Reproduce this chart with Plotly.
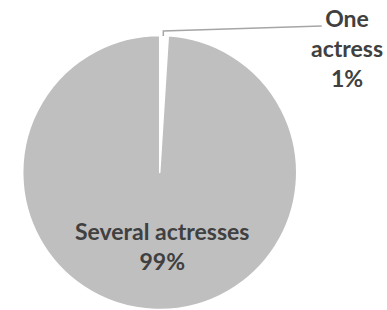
import plotly.graph_objects as go

labels = ["One actress", "Several actresses"]
values = [1, 99]
percent_text = ["1%", "99%"]
colors = ["#ffffff", "#bfbfbf"]
label_font = "Lato, 'PT Sans', 'Open Sans', sans-serif"
text_color = "#404040"

fig = go.Figure(go.Pie(
    labels=labels,
    values=values,
    sort=False,
    direction="clockwise",
    rotation=0,
    marker=dict(colors=colors, line=dict(color="#ffffff", width=1.5)),
    textinfo="none",
    domain=dict(x=[0.0587, 0.7667], y=[0.0016, 0.8855]),
    showlegend=False,
    hoverinfo="label+percent",
))

# inside label of the large slice
fig.add_annotation(
    x=161.5 / 387, y=(310 - 245.5) / 310, xref="paper", yref="paper",
    xanchor="center", yanchor="middle",
    text=f"<b>{labels[1]}<br>{percent_text[1]}</b>",
    showarrow=False, align="center",
    font=dict(family=label_font, size=23, color=text_color),
)

# outside label of the small slice
fig.add_annotation(
    x=347 / 387, y=(310 - 48) / 310, xref="paper", yref="paper",
    xanchor="center", yanchor="middle",
    text="<b>" + labels[0].replace(" ", "<br>") + "<br>" + percent_text[0] + "</b>",
    showarrow=False, align="center",
    font=dict(family=label_font, size=23, color=text_color),
)

# leader line
fig.add_shape(
    type="path",
    path="M 0.8313 0.9161 L 0.422 0.9 L 0.422 0.8839",
    xref="paper", yref="paper",
    line=dict(color="#a6a6a6", width=1.5),
)

fig.update_layout(
    width=387, height=310,
    margin=dict(l=0, r=0, t=0, b=0),
    paper_bgcolor="#ffffff",
    plot_bgcolor="#ffffff",
)

fig.write_html(
    "out.html",
    config={"displayModeBar": False},
    post_script="document.body.style.margin='0';document.body.style.overflow='hidden';",
)
